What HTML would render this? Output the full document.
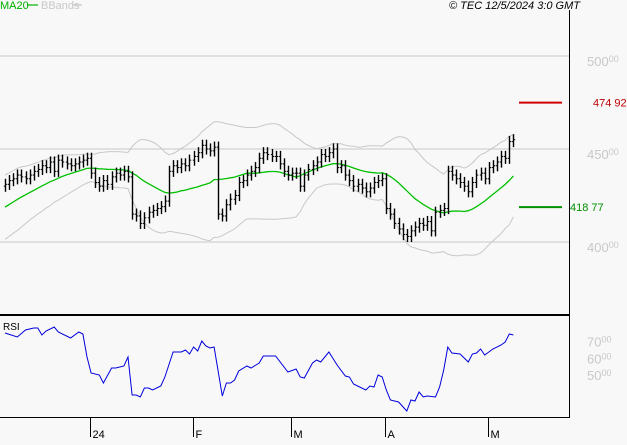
<!DOCTYPE html>
<html><head><meta charset="utf-8">
<style>
html,body{margin:0;padding:0;background:#f8f8f8;}
body{width:627px;height:440px;overflow:hidden;font-family:"Liberation Sans",sans-serif;}
svg text{font-family:"Liberation Sans",sans-serif;}
</style></head>
<body>
<svg id="chart" width="627" height="440" viewBox="0 0 627 440" xmlns="http://www.w3.org/2000/svg">
<rect x="0" y="0" width="627" height="440" fill="#f8f8f8"/>
<g id="grid"></g>
<g id="bands"></g>
<g id="ma"></g>
<g id="bars"></g>
<g id="rsi"></g>
<g id="axes"></g>
<g id="labels"></g>
<g>
<text x="0" y="9" font-size="11" fill="#00b000">MA20</text>
<line x1="27" y1="5" x2="38" y2="5" stroke="#00b000" stroke-width="1.2"/>
<text x="41" y="9" font-size="11" fill="#c8c8c8">BBands</text>
<line x1="73" y1="5" x2="82" y2="5" stroke="#c8c8c8" stroke-width="1.2"/>
</g>
<text x="449" y="9" font-size="11" font-style="italic" fill="#000">© TEC 12/5/2024 3:0 GMT</text>
<text x="3" y="330" font-size="10" fill="#000">RSI</text>
</svg>
<script>
const closes=[431,433,434,436,435,434,436,438,439,441,440,443,438,444,443,442,441,442,443,444,445,
437,432,430,433,431,435,437,436,438,435,
415,414,410,413,416,417,418,419,422,
438,441,440,442,441,444,446,448,452,450,449,451,
415,414,420,423,425,432,433,436,438,
440,445,448,447,446,446,442,438,436,437,437,430,436,439,441,443,447,446,448,450,440,441,436,433,430,431,429,427,429,432,433,434,
418,415,410,407,404,403,406,408,410,409,411,406,416,417,418,
438,436,434,432,430,427,432,436,437,434,440,441,443,446,445,454,455];
const prehistory=[405,406,408,409,411,412,414,415,417,418,420,421,423,424,426,427,428,429,430];
const rsiIdx=[0,3,5,7,8,9,10,12,13,16,18,19,20,21,23,24,26,27,29,30,31,32,33,34,35,36,38,39,41,43,44,45,46,47,48,49,50,51,53,54,55,56,57,59,60,62,63,66,69,71,72,73,75,76,77,79,81,83,84,85,88,89,90,91,92,93,94,96,98,99,100,101,102,103,105,106,107,108,109,111,113,114,115,116,117,119,121,122,123,124];
const rsiVal=[75.2,72.8,77,78.2,78.2,74,76.4,78.8,75.8,72.2,75.8,74.6,60.8,51.2,50,45.2,54.2,54.2,55.4,60.8,38,38,36.8,42.2,42.2,41,43.4,48.8,63.8,63.8,65,62.6,66.8,64.4,70.4,67.4,66.2,66.8,37.4,45.2,45.2,47,52.4,55.4,54.2,57.2,61.4,61.4,51.8,53.6,48.8,48.2,57.2,59,57.8,63.8,56,49.4,48.8,44.6,41,43.4,42.8,50,48.8,41,35,33.8,28.4,35,34.4,39.8,36.8,37.4,36.8,42.8,53,66.8,63.2,62.6,57.8,62.6,63.2,65.6,62,65.6,68,69.8,74.6,74];
const priceTicks=[500,450,400];
const rsiTicks=[70,60,50];
const monthLabels=["24","F","M","A","M"];
const monthIdx=[21,46,70,93,118];
const levelHigh=474.92, levelLow=418.77;

const NS="http://www.w3.org/2000/svg";
const xOf=i=>5+i*4.1;
const yP=v=>56+(500-v)*1.86;
const yR=v=>341.7+(70-v)*1.667;
function mk(tag,attrs,parent){const e=document.createElementNS(NS,tag);for(const k in attrs)e.setAttribute(k,attrs[k]);parent.appendChild(e);return e;}
const G=id=>document.getElementById(id);

priceTicks.forEach(t=>{
  const l=mk('line',{x1:0,x2:569,y1:yP(t),y2:yP(t),stroke:'#c8c8c8','stroke-width':1},G('grid'));
  
  
});

const all=prehistory.concat(closes);
const ma=[],up=[],lo=[];
closes.forEach((c,i)=>{
  const w=all.slice(i,i+20);
  const m=w.reduce((a,b)=>a+b,0)/20;
  const sd=Math.sqrt(w.reduce((a,b)=>a+(b-m)*(b-m),0)/20);
  ma.push(m);up.push(m+2.1*sd);lo.push(m-2.1*sd);
});
const pts=arr=>arr.map((v,i)=>xOf(i).toFixed(1)+','+yP(v).toFixed(1)).join(' ');
let e=mk('polyline',{points:pts(up),fill:'none',stroke:'#c8c8c8','stroke-width':1},G('bands'));


e=mk('polyline',{points:pts(lo),fill:'none',stroke:'#c8c8c8','stroke-width':1},G('bands'));


e=mk('polyline',{points:pts(ma),fill:'none',stroke:'#00c000','stroke-width':1.3},G('ma'));



closes.forEach((c,i)=>{
  const o=i>0?closes[i-1]:c-1;
  const h=Math.max(o,c)+3,l=Math.min(o,c)-3;
  const x=Math.round(xOf(i))+0.5;
  const g=mk('g',{},G('bars'));
  
  
  mk('line',{x1:x,x2:x,y1:yP(h),y2:yP(l),stroke:'#000','stroke-width':1.4},g);
  mk('line',{x1:x-1.7,x2:x,y1:yP(o),y2:yP(o),stroke:'#000','stroke-width':1},g);
  mk('line',{x1:x,x2:x+1.7,y1:yP(c),y2:yP(c),stroke:'#000','stroke-width':1},g);
});

e=mk('polyline',{points:rsiIdx.map((k,j)=>xOf(k).toFixed(1)+','+yR(rsiVal[j]).toFixed(1)).join(' '),fill:'none',stroke:'#0000dd','stroke-width':1},G('rsi'));



const A=G('axes');
e=mk('line',{x1:569.5,x2:569.5,y1:10,y2:418,stroke:'#000','stroke-width':1},A);


e=mk('line',{x1:0,x2:570,y1:315,y2:315,stroke:'#000','stroke-width':2},A);


e=mk('line',{x1:0,x2:570,y1:417.5,y2:417.5,stroke:'#000','stroke-width':1},A);


monthIdx.forEach((k,j)=>{
  const x=Math.round(xOf(k))-0.5;
  const t=mk('line',{x1:x,x2:x,y1:418,y2:437,stroke:'#000','stroke-width':1},A);
  
  
  const tx=mk('text',{x:x+2,y:438,'font-size':11,fill:'#000'},G('labels'));
  tx.textContent=monthLabels[j];
  
  
});
const L=G('labels');
function lab(v,y,name){
  const t=mk('text',{x:587,y:y,'font-size':13,fill:'#c8c8c8'},L);
  const parts=v.toFixed(2).split('.');
  t.textContent=parts[0];
  const s=mk('tspan',{'font-size':9,dy:-4},t);s.textContent=parts[1];
  
  
}
priceTicks.forEach(v=>lab(v,yP(v)+10,'y-tick-label'));
rsiTicks.forEach(v=>lab(v,yR(v)+5,'rsi-tick-label'));
e=mk('line',{x1:519,x2:562,y1:yP(levelHigh),y2:yP(levelHigh),stroke:'#d00000','stroke-width':2},A);


e=mk('text',{x:593,y:yP(levelHigh)+4,'font-size':11,fill:'#c00000'},L);
e.textContent=levelHigh.toFixed(2).replace('.',' ');


e=mk('line',{x1:519,x2:562,y1:yP(levelLow),y2:yP(levelLow),stroke:'#009000','stroke-width':2},A);


e=mk('text',{x:570,y:yP(levelLow)+4,'font-size':11,fill:'#009000'},L);
e.textContent=levelLow.toFixed(2).replace('.',' ');


</script>
</body></html>
